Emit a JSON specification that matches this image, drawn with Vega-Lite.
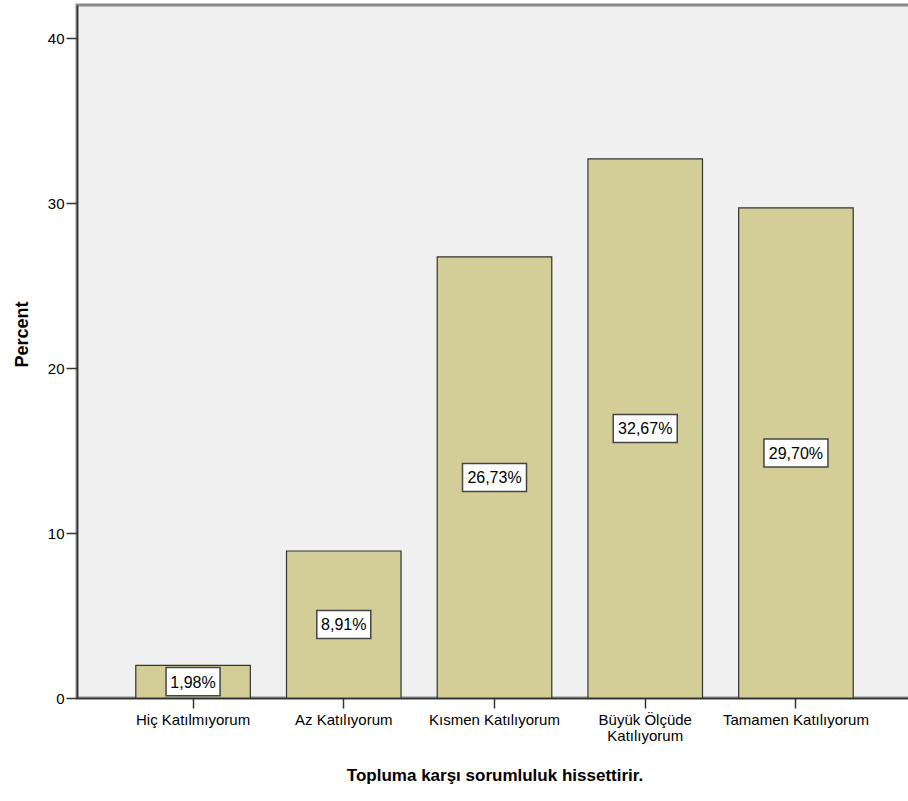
{
  "$schema": "https://vega.github.io/schema/vega-lite/v6.json",
  "autosize": {"type": "none"},
  "padding": {"left": 77, "top": 5, "right": 0, "bottom": 103},
  "width": 835,
  "height": 693,
  "background": "white",
  "config": {
    "view": {"fill": "#f0f0f0", "stroke": "#8a8a8a", "strokeWidth": 3},
    "font": "Liberation Sans"
  },
  "data": {
    "values": [
      {"category": "Hiç Katılmıyorum", "value": 1.98, "label": "1,98%"},
      {"category": "Az Katılıyorum", "value": 8.91, "label": "8,91%"},
      {"category": "Kısmen Katılıyorum", "value": 26.73, "label": "26,73%"},
      {"category": "Büyük Ölçüde Katılıyorum", "value": 32.67, "label": "32,67%"},
      {"category": "Tamamen Katılıyorum", "value": 29.70, "label": "29,70%"}
    ]
  },
  "encoding": {
    "x": {
      "field": "category",
      "type": "nominal",
      "sort": null,
      "scale": {"paddingInner": 0.24, "paddingOuter": 0.39},
      "axis": {
        "title": "Topluma karşı sorumluluk hissettirir.",
        "titleFont": "Liberation Sans",
        "titleFontSize": 17,
        "titleFontWeight": "bold",
        "titleColor": "#000",
        "titlePadding": 24,
        "labelAngle": 0,
        "labelFont": "Liberation Sans",
        "labelFontSize": 15,
        "labelColor": "#000",
        "labelPadding": 4,
        "labelLineHeight": 16,
        "labelExpr": "datum.label == 'Büyük Ölçüde Katılıyorum' ? ['Büyük Ölçüde', 'Katılıyorum'] : datum.label",
        "tickSize": 10,
        "tickColor": "#333",
        "tickWidth": 1.5,
        "domainColor": "#333",
        "domainWidth": 1.5
      }
    }
  },
  "layer": [
    {
      "mark": {"type": "bar", "fill": "#d3ce97", "stroke": "#333", "strokeWidth": 1.2},
      "encoding": {
        "y": {
          "field": "value",
          "type": "quantitative",
          "scale": {"domain": [0, 42], "nice": false},
          "axis": {
            "title": "Percent",
            "titleFont": "Liberation Sans",
            "titleFontSize": 18,
            "titleFontWeight": "bold",
            "titleColor": "#000",
            "titlePadding": 16,
            "titleY": 329,
            "values": [0, 10, 20, 30, 40],
            "grid": false,
            "labelFont": "Liberation Sans",
            "labelFontSize": 15,
            "labelColor": "#000",
            "labelPadding": 2,
            "tickSize": 11,
            "tickColor": "#333",
            "tickWidth": 1.5,
            "domainColor": "#333",
            "domainWidth": 1.5
          }
        }
      }
    },
    {
      "mark": {"type": "point", "filled": true, "fill": "white", "stroke": "#444", "strokeWidth": 1.5, "opacity": 1},
      "encoding": {
        "y": {"field": "value", "type": "quantitative", "scale": {"domain": [0, 84], "nice": false}, "axis": null},
        "shape": {
          "condition": {"test": "datum.value < 10", "value": "M-1,-0.52H1V0.52H-1Z"},
          "value": "M-1,-0.44H1V0.44H-1Z"
        },
        "size": {
          "condition": {"test": "datum.value < 10", "value": 2916},
          "value": 4096
        }
      }
    },
    {
      "mark": {"type": "text", "font": "Liberation Sans", "fontSize": 16, "color": "#000", "baseline": "middle", "align": "center", "dy": 1},
      "encoding": {
        "y": {"field": "value", "type": "quantitative", "scale": {"domain": [0, 84], "nice": false}, "axis": null},
        "text": {"field": "label"}
      }
    }
  ],
  "resolve": {"scale": {"y": "independent"}}
}
